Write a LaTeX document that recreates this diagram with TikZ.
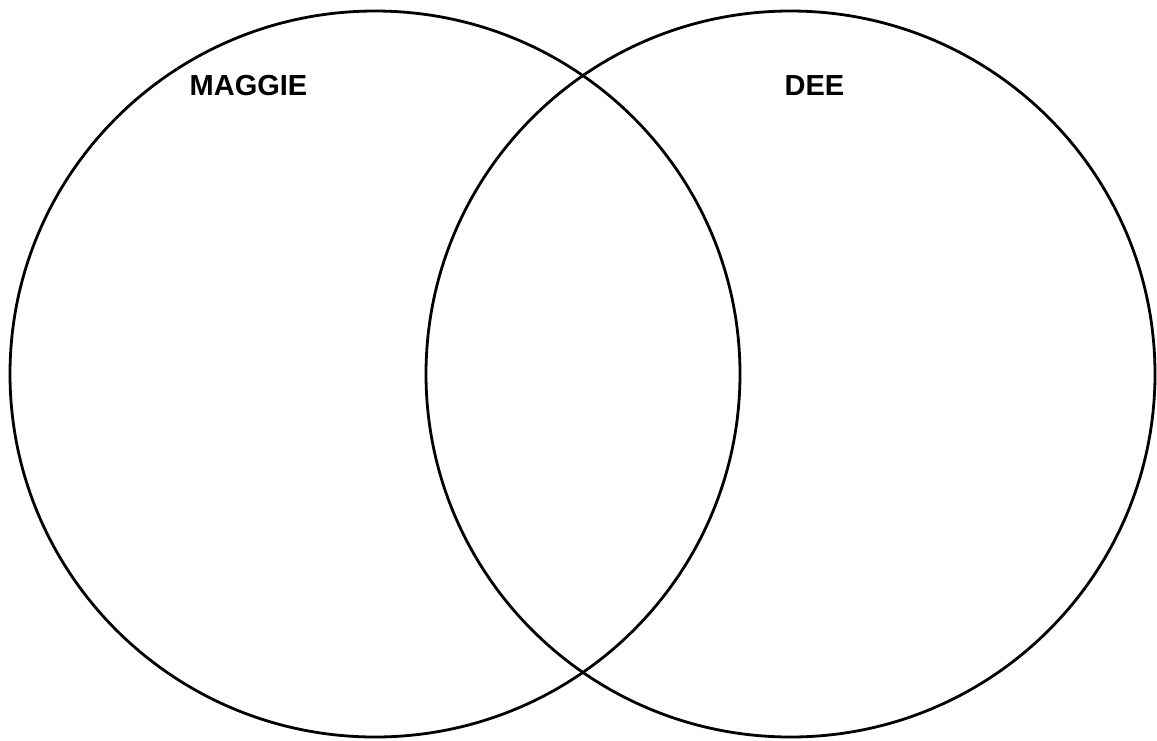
\documentclass[tikz,border=0pt]{standalone}
\usepackage{fontspec}
\setmainfont{Liberation Sans}
\begin{document}
\begin{tikzpicture}[x=1pt,y=-1pt,
  setcircle/.style={draw=black,line width=2.8pt},
  setlabel/.style={inner sep=0pt,anchor=base,font=\fontsize{29}{34}\selectfont\bfseries}]
\useasboundingbox (0,0) rectangle (1157,740);
\draw[setcircle] (375,374) ellipse [x radius=365,y radius=363];
\draw[setcircle] (790.5,374) ellipse [x radius=364.5,y radius=363];
\node[setlabel] (maggie) at (248.5,95) {MAGGIE};
\node[setlabel] (dee) at (814.5,95) {DEE};
\end{tikzpicture}
\end{document}
